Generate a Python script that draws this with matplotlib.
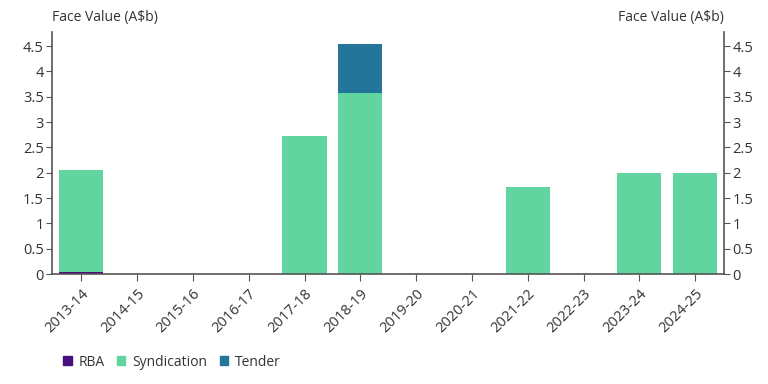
import numpy as np
import matplotlib
matplotlib.use("Agg")
import matplotlib.pyplot as plt
from matplotlib.patches import Patch

plt.rcParams["font.family"] = ["Open Sans", "DejaVu Sans"]

years = ["2013-14", "2014-15", "2015-16", "2016-17", "2017-18", "2018-19",
         "2019-20", "2020-21", "2021-22", "2022-23", "2023-24", "2024-25"]
rba = [0.05, 0, 0, 0, 0, 0, 0, 0, 0, 0, 0, 0]
syndication = [2.01, 0, 0, 0, 2.72, 3.57, 0, 0, 1.72, 0, 2.0, 2.0]
tender = [0, 0, 0, 0, 0, 0.97, 0, 0, 0, 0, 0, 0]

c_rba = "#4a0f7e"
c_syn = "#62d4a0"
c_ten = "#237599"
axis_col = "#555555"
text_col = "#333333"

fig = plt.figure(figsize=(7.68, 3.84), dpi=100)
ax = fig.add_axes([0.068, 0.286, 0.875, 0.631])

x = np.arange(len(years))
rba = np.array(rba)
syndication = np.array(syndication)
tender = np.array(tender)
w = 0.79
ax.bar(x, rba, w, color=c_rba)
ax.bar(x, syndication, w, bottom=rba, color=c_syn)
ax.bar(x, tender, w, bottom=rba + syndication, color=c_ten)

ax.set_xlim(-0.52, len(years) - 0.48)
ax.set_ylim(0, 4.78)
yt = [0, 0.5, 1, 1.5, 2, 2.5, 3, 3.5, 4, 4.5]
ylabels = ["0", "0.5", "1", "1.5", "2", "2.5", "3", "3.5", "4", "4.5"]
ax.set_yticks(yt)
ax.set_yticklabels(ylabels)
ax.tick_params(axis="y", which="both", labelright=True, right=True,
               colors=axis_col, labelcolor=text_col, labelsize=10.5, length=4, pad=2)
ax.set_xticks(x)
ax.set_xticklabels(years, rotation=45, ha="right", rotation_mode="anchor")
ax.tick_params(axis="x", colors=axis_col, labelcolor=text_col, labelsize=10.5, length=5)

ax.spines["top"].set_visible(False)
for s in ["left", "right", "bottom"]:
    ax.spines[s].set_color(axis_col)
    ax.spines[s].set_linewidth(1.2)

fig.text(0.068, 0.955, "Face Value (A\\$b)", ha="left", va="center",
         fontsize=10, color=text_col)
fig.text(0.943, 0.955, "Face Value (A\\$b)", ha="right", va="center",
         fontsize=10, color=text_col)

handles = [Patch(color=c_rba, label="RBA"),
           Patch(color=c_syn, label="Syndication"),
           Patch(color=c_ten, label="Tender")]
fig.legend(handles=handles, loc="center left", bbox_to_anchor=(0.066, 0.057),
           ncol=3, frameon=False, fontsize=10, handlelength=0.6, handleheight=0.6,
           handletextpad=0.5, columnspacing=0.9, labelcolor=text_col)

fig.savefig("out.png", dpi=100)
